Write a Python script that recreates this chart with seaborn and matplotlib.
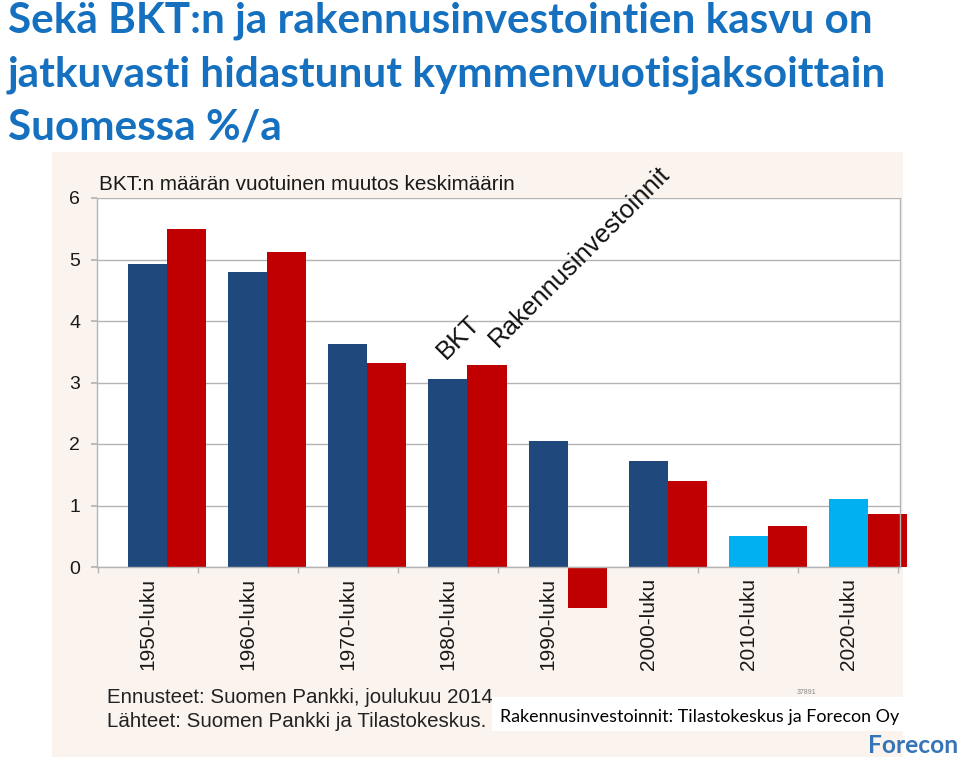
import matplotlib
matplotlib.use("Agg")
import matplotlib.pyplot as plt
import seaborn as sns
import pandas as pd
from matplotlib.patches import Rectangle

# === Data ===
vuosikymmenet = ["1950-luku", "1960-luku", "1970-luku", "1980-luku",
                 "1990-luku", "2000-luku", "2010-luku", "2020-luku"]
bkt = [4.93, 4.80, 3.62, 3.05, 2.05, 1.72, 0.50, 1.10]
rakennus = [5.50, 5.12, 3.32, 3.28, -0.67, 1.40, 0.66, 0.86]
ennuste = [False, False, False, False, False, False, True, True]

df = pd.DataFrame({
    "vuosikymmen": vuosikymmenet * 2,
    "muutos": bkt + rakennus,
    "sarja": ["BKT"] * len(bkt) + ["Rakennusinvestoinnit"] * len(rakennus),
})

BLUE = "#1f497d"
LIGHT = "#00b0f0"
RED = "#c00000"
TITLE_BLUE = "#1570bf"
BEIGE = "#faf3ee"
GRID = "#b4b4b4"

sns.set_theme(style="white")
plt.rcParams["font.family"] = ["Liberation Sans", "DejaVu Sans"]

W, H = 960, 761
fig = plt.figure(figsize=(W / 100, H / 100), dpi=100)
fig.patch.set_facecolor("white")


def fx(px):
    return px / W


def fy(py):
    return 1 - py / H


def fit(t, target_px):
    r = fig.canvas.get_renderer()
    w = t.get_window_extent(r).width
    t.set_fontsize(t.get_fontsize() * target_px / w)


# beige chart panel
fig.patches.append(Rectangle((fx(52), fy(757)), fx(903) - fx(52), fy(152) - fy(757),
                             transform=fig.transFigure, facecolor=BEIGE,
                             edgecolor="none", zorder=-5))

ax = fig.add_axes([fx(97), fy(567), fx(900) - fx(97), fy(198) - fy(567)])
ax.set_zorder(1)
ax.set_facecolor("white")

sns.barplot(data=df, x="vuosikymmen", y="muutos", hue="sarja",
            palette=[BLUE, RED], width=0.78, dodge=True, saturation=1,
            errorbar=None, legend=False, ax=ax)

for bar in ax.patches:
    bar.set_clip_on(False)
    bar.set_edgecolor("none")
for bar, f in zip(ax.containers[0], ennuste):
    if f:
        bar.set_facecolor(LIGHT)

ax.set_ylim(0, 6)
ax.set_xlim(-0.70, 7.32)
ax.set_yticks(range(0, 7))
ax.yaxis.grid(True, color=GRID, lw=1)
ax.set_axisbelow(True)
ax.set_xlabel("")
ax.set_ylabel("")

n = len(vuosikymmenet)
ax.set_xticks([i - 0.195 for i in range(n)])
ax.set_xticklabels(vuosikymmenet, rotation=90, fontsize=15)
ax.set_xticks([i - 0.695 for i in range(n + 1)], minor=True)
ax.tick_params(axis="x", which="major", length=0, pad=8, colors="#1a1a1a")
ax.tick_params(axis="x", which="minor", length=4, color=GRID, direction="out", bottom=True)
ax.tick_params(axis="y", length=4, color=GRID, direction="out", left=True,
               labelsize=14, pad=8, labelcolor="#1a1a1a")

ax.spines["top"].set_visible(False)
for s in ["left", "right", "bottom"]:
    ax.spines[s].set_color(GRID)
    ax.spines[s].set_linewidth(1)

# series labels in the chart
ax.text(2.78, 3.36, "BKT", rotation=45, rotation_mode="anchor",
        ha="left", va="baseline", fontsize=18.5, color="#111111")
ax.text(3.30, 3.56, "Rakennusinvestoinnit", rotation=45, rotation_mode="anchor",
        ha="left", va="baseline", fontsize=18.5, color="#111111", clip_on=False)

# subtitle inside panel
sub = fig.text(fx(99), fy(190), "BKT:n määrän vuotuinen muutos keskimäärin",
               fontsize=14, color="#1a1a1a", va="baseline")
fit(sub, 418)

# footnotes
f1 = fig.text(fx(107), fy(703), "Ennusteet: Suomen Pankki, joulukuu 2014",
              fontsize=14, color="#222222", va="baseline")
fit(f1, 389)
f2 = fig.text(fx(107), fy(727), "Lähteet: Suomen Pankki ja Tilastokeskus.",
              fontsize=f1.get_fontsize(), color="#222222", va="baseline")
fig.text(fx(797), fy(694), "37891", fontsize=5, color="#888888", va="baseline")

# white source box
fig.patches.append(Rectangle((fx(492), fy(731)), fx(903) - fx(492), fy(697) - fy(731),
                             transform=fig.transFigure, facecolor="white",
                             edgecolor="none", zorder=5))
src = fig.text(fx(500), fy(722), "Rakennusinvestoinnit: Tilastokeskus ja Forecon Oy",
               fontsize=12, color="black", va="baseline", family=["Lato", "DejaVu Sans"],
               zorder=6)
fit(src, 398)

logo = fig.text(fx(868), fy(753), "Forecon", fontsize=16, color="#3574b5",
                fontweight="bold", va="baseline", family=["Lato", "DejaVu Sans"])
fit(logo, 90)

# main title
title_lines = ["Sekä BKT:n ja rakennusinvestointien kasvu on",
               "jatkuvasti hidastunut kymmenvuotisjaksoittain",
               "Suomessa %/a"]
baselines = [33, 86, 139]
t2 = fig.text(fx(8), fy(baselines[1]), title_lines[1], fontsize=30, fontweight="bold",
              color=TITLE_BLUE, va="baseline", family=["Lato", "DejaVu Sans"])
fit(t2, 877)
for line, b in zip([title_lines[0], title_lines[2]], [baselines[0], baselines[2]]):
    fig.text(fx(8), fy(b), line, fontsize=t2.get_fontsize(), fontweight="bold",
             color=TITLE_BLUE, va="baseline", family=["Lato", "DejaVu Sans"])

plt.savefig("out.png", dpi=100)
plt.close()
